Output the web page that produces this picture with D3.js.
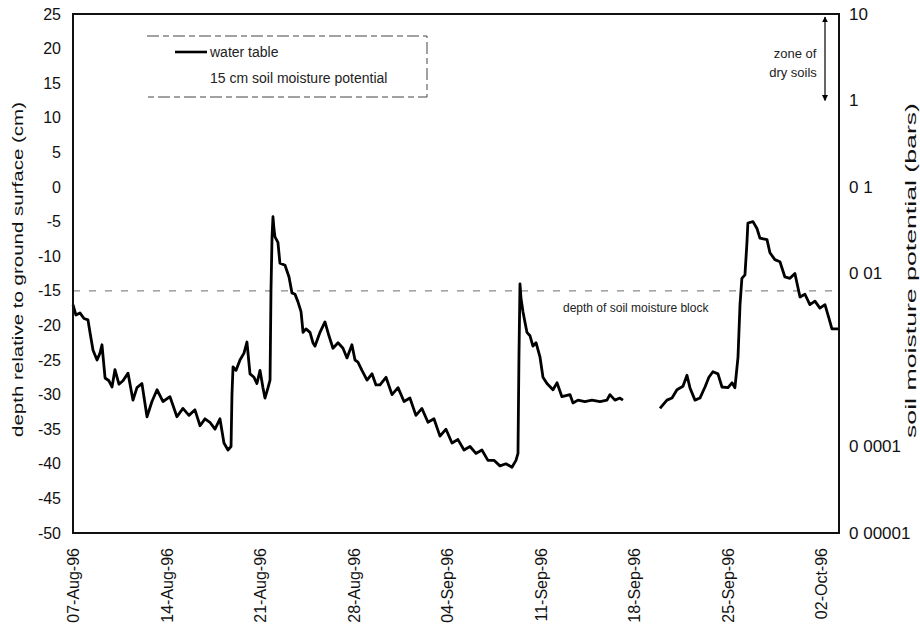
<!DOCTYPE html>
<html>
<head>
<meta charset="utf-8">
<script src="https://cdn.jsdelivr.net/npm/d3@7"></script>
<style>
  body { margin: 0; background: #fff; }
  svg { font-family: "Liberation Sans", Arial, sans-serif; }
</style>
</head>
<body>
<div id="chart"></div>
<script>
// days since 07-Aug-96 and water table depth (cm); null marks the logger gap
const days = [
  0.00, 0.22, 0.52, 0.82, 1.12, 1.27, 1.50, 1.80, 2.02, 2.17, 2.40, 2.69, 2.92, 3.14, 3.44, 3.74,
  4.12, 4.49, 4.79, 5.16, 5.54, 5.91, 6.29, 6.74, 7.26, 7.78, 8.23, 8.68, 9.13, 9.51, 9.88, 10.25,
  10.63, 11.00, 11.30, 11.60, 11.83, 11.90, 11.98, 12.20, 12.50, 12.80, 13.02, 13.25, 13.55, 13.77,
  14.00, 14.22, 14.37, 14.60, 14.75, 14.82, 14.90, 14.97, 15.04, 15.12, 15.34, 15.49, 15.87, 16.17,
  16.39, 16.62, 16.84, 17.07, 17.22, 17.44, 17.74, 17.96, 18.11, 18.49, 18.86, 19.16, 19.46, 19.84,
  20.21, 20.51, 20.88, 21.11, 21.33, 21.63, 22.01, 22.38, 22.68, 22.98, 23.43, 23.88, 24.33, 24.78,
  25.22, 25.67, 26.12, 26.57, 27.02, 27.47, 27.92, 28.37, 28.82, 29.27, 29.72, 30.16, 30.61, 31.06,
  31.51, 31.96, 32.41, 32.86, 33.16, 33.31, 33.38, 33.46, 33.53, 33.68, 33.83, 33.98, 34.21, 34.43,
  34.66, 34.96, 35.18, 35.48, 35.93, 36.23, 36.60, 37.20, 37.43, 37.80, 38.32, 38.85, 39.45, 39.97,
  40.19, 40.57, 40.94, 41.17, 42.50,
  43.94, 44.46, 44.84, 45.21, 45.66, 45.96, 46.18, 46.56, 46.93, 47.31, 47.60, 47.90, 48.28, 48.58,
  49.03, 49.33, 49.55, 49.78, 49.93, 50.07, 50.30, 50.45, 50.52, 50.90, 51.20, 51.42, 51.95, 52.17,
  52.54, 52.92, 53.29, 53.67, 54.04, 54.42, 54.79, 55.16, 55.54, 55.91, 56.29, 56.59, 56.81, 57.34
];
const depth = [
  -17, -18.5, -18.2, -19, -19.2, -21, -23.6, -25, -24, -22.8, -27.6, -28, -28.9, -26.4, -28.5, -28,
  -26.9, -30.8, -29, -28.4, -33.2, -31, -29.3, -31, -30.3, -33.2, -32, -33, -32.2, -34.5, -33.5, -34,
  -35, -33.5, -37, -38, -37.5, -30, -26, -26.5, -25, -24, -22.4, -27,
  -27.5, -28.4, -26.5, -29, -30.5, -29, -27.9, -15, -7.2, -4.3, -6, -7.2, -8, -11, -11.3, -13,
  -15.3, -15.5, -16.6, -18, -21, -20.5, -21, -22.5, -23, -21, -19.5, -21.5, -23.3, -22.5,
  -23.3, -24.7, -22.8, -25, -25.3, -26.5, -27.9, -27, -28.6, -28.6, -27.5, -30, -29, -31,
  -30.5, -33, -32, -34, -33.5, -36, -35, -37, -36.5, -38, -37.5, -38.5, -38, -39.5,
  -39.5, -40.3, -40, -40.5, -39.5, -38.5, -25, -14, -16, -18, -19.5, -21, -21.5, -23,
  -22.5, -24.6, -27.5, -28.4, -29.3, -28.3, -30.3, -30, -31.2, -30.8, -31, -30.8, -31, -30.8,
  -30, -30.8, -30.5, -30.8, null,
  -32, -30.8, -30.5, -29.3, -28.8, -27.2, -29, -30.8, -30.5, -28.9, -27.5, -26.7, -27, -28.9,
  -29, -28.3, -29, -24.6, -17, -13.2, -12.7, -8, -5.2, -5.0, -6, -7.4, -7.6, -9.5,
  -10.5, -10.8, -13, -13.2, -12.5, -15.9, -15.5, -17, -16.5, -17.5, -17, -19, -20.5, -20.5
];

const startDate = new Date(1996, 7, 7);
const endDay = 57.34;
const dateTicks = ["1996-08-07", "1996-08-14", "1996-08-21", "1996-08-28", "1996-09-04",
  "1996-09-11", "1996-09-18", "1996-09-25", "1996-10-02"];
const depthTicks = [25, 20, 15, 10, 5, 0, -5, -10, -15, -20, -25, -30, -35, -40, -45, -50];
const potentialTicks = [10, 1, 0.1, 0.01, 0.0001, 0.00001];
const potentialLabels = ["10", "1", "0 1", "0 01", "0 0001", "0 00001"];
const blockDepth = -15;

const W = 920, H = 632;
const plotLeft = 73, plotRight = 839, plotTop = 14, plotBottom = 533;

const svg = d3.select("#chart").append("svg")
  .attr("width", W)
  .attr("height", H);

const dayMs = 86400000;
const x = d3.scaleTime()
  .domain([startDate, new Date(+startDate + endDay * dayMs)])
  .range([plotLeft, plotRight]);
const y = d3.scaleLinear().domain([-50, 25]).range([plotBottom, plotTop]);
const yRight = d3.scaleLog().domain([0.00001, 10]).range([plotBottom, plotTop]);

const parse = d3.timeParse("%Y-%m-%d");
const fmt = d3.timeFormat("%d-%b-%y");

// dashed line for the depth of the moisture block
svg.append("line")
  .attr("x1", plotLeft).attr("x2", plotRight)
  .attr("y1", y(blockDepth)).attr("y2", y(blockDepth))
  .attr("stroke", "#8a8a8a")
  .attr("stroke-width", 1.2)
  .attr("stroke-dasharray", "7,9");

svg.append("text")
  .attr("x", 563).attr("y", y(blockDepth) + 21)
  .attr("font-size", 12)
  .attr("fill", "#222")
  .text("depth of soil moisture block");

// water table line
const pts = days.map((d, i) => ({ t: new Date(+startDate + d * dayMs), v: depth[i] }));
const line = d3.line()
  .defined(d => d.v !== null)
  .x(d => x(d.t))
  .y(d => y(d.v));

svg.append("path")
  .datum(pts)
  .attr("fill", "none")
  .attr("stroke", "#000")
  .attr("stroke-width", 2.8)
  .attr("stroke-linejoin", "round")
  .attr("d", line);

// frame
svg.append("rect")
  .attr("x", plotLeft).attr("y", plotTop)
  .attr("width", plotRight - plotLeft).attr("height", plotBottom - plotTop)
  .attr("fill", "none")
  .attr("stroke", "#111")
  .attr("stroke-width", 2);

// left axis (plain hyphen minus like the original)
const yAxis = svg.append("g")
  .attr("transform", `translate(${plotLeft},0)`)
  .call(d3.axisLeft(y).tickValues(depthTicks).tickSize(0).tickPadding(12)
    .tickFormat(d => String(d)));
yAxis.select(".domain").remove();
yAxis.selectAll("text").attr("font-size", 16).attr("fill", "#111");

// right axis
const yAxisR = svg.append("g")
  .attr("transform", `translate(${plotRight},0)`)
  .call(d3.axisRight(yRight).tickValues(potentialTicks).tickSize(0).tickPadding(10)
    .tickFormat((d, i) => potentialLabels[i]));
yAxisR.select(".domain").remove();
yAxisR.selectAll("text").attr("font-size", 17).attr("fill", "#111");

// bottom axis
const xAxis = svg.append("g")
  .attr("transform", `translate(0,${plotBottom})`)
  .call(d3.axisBottom(x).tickValues(dateTicks.map(parse)).tickSize(0).tickFormat(fmt));
xAxis.select(".domain").remove();
xAxis.selectAll("text")
  .attr("font-size", 16)
  .attr("fill", "#111")
  .attr("text-anchor", "end")
  .attr("transform", "rotate(-90)")
  .attr("x", -15)
  .attr("y", 0)
  .attr("dy", "0.35em");

// axis titles (the scanned lettering is widely spaced)
svg.append("text")
  .attr("transform", `translate(23,${(plotTop + plotBottom) / 2 - 4}) rotate(-90)`)
  .attr("text-anchor", "middle")
  .attr("font-size", 15)
  .attr("fill", "#111")
  .attr("textLength", 335)
  .attr("lengthAdjust", "spacingAndGlyphs")
  .text("depth relative to ground surface (cm)");

svg.append("text")
  .attr("transform", `translate(916,${(plotTop + plotBottom) / 2 - 3}) rotate(-90)`)
  .attr("text-anchor", "middle")
  .attr("font-size", 15)
  .attr("fill", "#111")
  .attr("textLength", 335)
  .attr("lengthAdjust", "spacingAndGlyphs")
  .text("soil moisture potential (bars)");

// legend
const legend = svg.append("g");
legend.append("path")
  .attr("d", "M147,36 H427 V97 H147")
  .attr("fill", "none")
  .attr("stroke", "#444")
  .attr("stroke-width", 1)
  .attr("stroke-dasharray", "12,4,6,4");
legend.append("line")
  .attr("x1", 175).attr("x2", 207)
  .attr("y1", 52).attr("y2", 52)
  .attr("stroke", "#000").attr("stroke-width", 2.6);
legend.append("text")
  .attr("x", 210).attr("y", 57)
  .attr("font-size", 14).attr("fill", "#222")
  .text("water table");
legend.append("text")
  .attr("x", 210).attr("y", 83)
  .attr("font-size", 14).attr("fill", "#222")
  .text("15 cm soil moisture potential");

// zone of dry soils annotation
svg.append("defs").append("marker")
  .attr("id", "arr")
  .attr("viewBox", "0 0 10 10")
  .attr("refX", 9).attr("refY", 5)
  .attr("markerWidth", 5).attr("markerHeight", 5)
  .attr("orient", "auto-start-reverse")
  .append("path").attr("d", "M0,0 L10,5 L0,10 z").attr("fill", "#000");

svg.append("line")
  .attr("x1", 825).attr("x2", 825)
  .attr("y1", yRight(10) + 3).attr("y2", yRight(1))
  .attr("stroke", "#000").attr("stroke-width", 1.2)
  .attr("marker-start", "url(#arr)")
  .attr("marker-end", "url(#arr)");

svg.append("text")
  .attr("x", 795).attr("y", 58)
  .attr("text-anchor", "middle")
  .attr("font-size", 13).attr("fill", "#222")
  .text("zone of");
svg.append("text")
  .attr("x", 793).attr("y", 77)
  .attr("text-anchor", "middle")
  .attr("font-size", 13).attr("fill", "#222")
  .text("dry soils");
</script>
</body>
</html>
